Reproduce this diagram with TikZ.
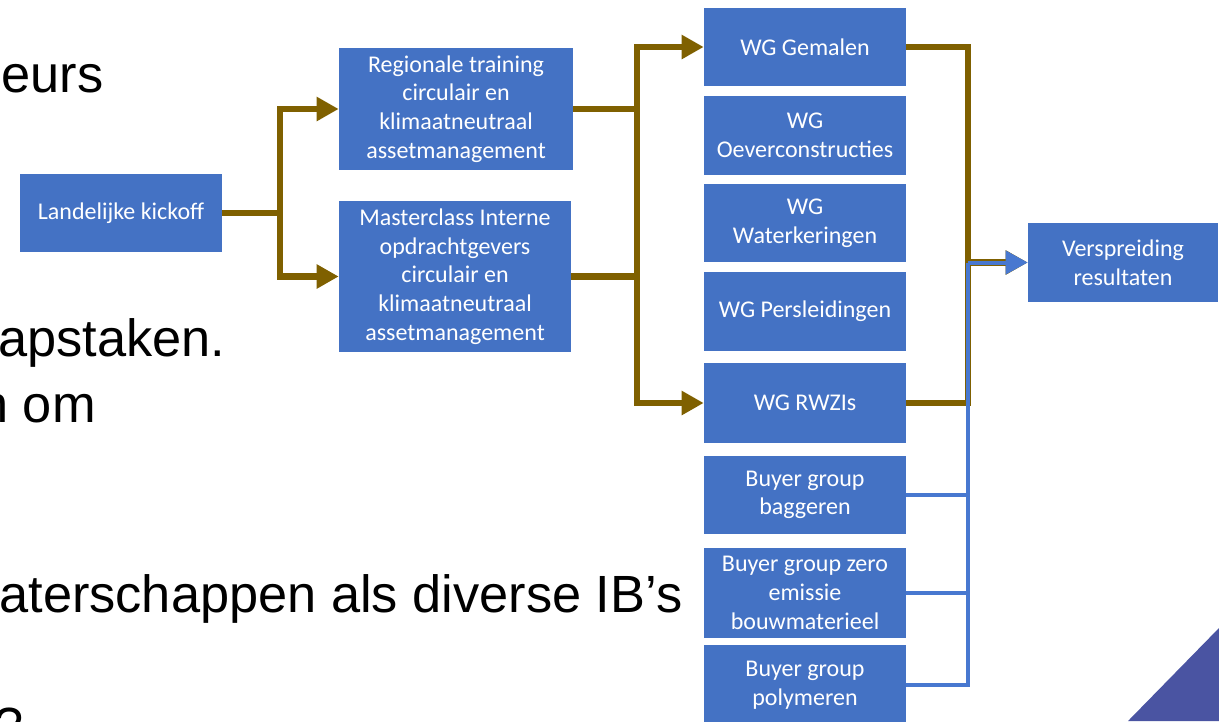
\documentclass[tikz,border=0pt]{standalone}
\usepackage{fontspec}
\setmainfont{Carlito}
\newfontfamily\slidefont{Liberation Sans}
\usetikzlibrary{arrows.meta}
\definecolor{boxblue}{RGB}{68,114,196}
\definecolor{linkblue}{RGB}{72,120,208}
\definecolor{linkbrown}{RGB}{127,96,0}
\definecolor{slidepurple}{RGB}{74,84,162}
\tikzset{
  wbox/.style={fill=boxblue, text=white, align=center, inner sep=0pt,
    font=\fontsize{13.66}{16.3}\selectfont},
  brn/.style={draw=linkbrown, line width=0.13cm},
  blu/.style={draw=linkblue, line width=0.08cm},
  tip/.style={-{Triangle[length=0.44cm,width=0.46cm]}},
  slidetxt/.style={inner sep=0pt, font=\slidefont\fontsize{29.8}{35}\selectfont}
}
\begin{document}
\begin{tikzpicture}[x=0.02cm, y=-0.02cm]
  \useasboundingbox (0,0) rectangle (1219,721);
  \clip (0,0) rectangle (1219,721);
  % slide text behind the scheme
  \node[slidetxt, anchor=base west] (s1) at (1,92) {eurs};
  \node[slidetxt, anchor=base west] (s2) at (-2,356) {apstaken.};
  \node[slidetxt, anchor=base west] (s3) at (-21,422) {n om};
  \node[slidetxt, anchor=base west] (s4) at (-1,612) {aterschappen als diverse IB’s};
  \node[slidetxt, anchor=base west] (s5) at (-6,744) {?};
  \fill[slidepurple] (1128,721) -- (1219,628) -- (1219,721) -- cycle;

  \node[wbox, minimum width=4.04cm, minimum height=1.56cm] (kick) at (121,213) {Landelijke kickoff};
  \node[wbox, minimum width=4.68cm, minimum height=2.44cm] (reg) at (456,109)
    {Regionale training\\circulair en\\klimaatneutraal\\assetmanagement};
  \node[wbox, minimum width=4.64cm, minimum height=3.02cm] (mast) at (455,276.5)
    {Masterclass Interne\\opdrachtgevers\\circulair en\\klimaatneutraal\\assetmanagement};

  \node[wbox, minimum width=4.04cm, minimum height=1.56cm] (gem) at (805,47) {WG Gemalen};
  \node[wbox, minimum width=4.04cm, minimum height=1.58cm] (oever) at (805,135.5) {WG\\Oeverconstructies};
  \node[wbox, minimum width=4.04cm, minimum height=1.56cm] (water) at (805,223) {WG\\Waterkeringen};
  \node[wbox, minimum width=4.04cm, minimum height=1.58cm] (pers) at (805,311.5) {WG Persleidingen};
  \node[wbox, minimum width=4.04cm, minimum height=1.6cm] (rwzi) at (805,403) {WG RWZIs};
  \node[wbox, minimum width=4.04cm, minimum height=1.56cm] (bagg) at (805,495) {Buyer group\\baggeren};
  \node[wbox, minimum width=4.04cm, minimum height=1.8cm] (zero) at (805,593) {Buyer group zero\\emissie\\bouwmaterieel};
  \node[wbox, minimum width=4.04cm, minimum height=1.6cm] (poly) at (805,685) {Buyer group\\polymeren};

  \node[wbox, minimum width=3.8cm, minimum height=1.58cm] (versp) at (1123,262.5) {Verspreiding\\resultaten};

  % brown links
  \coordinate (j1) at (280,213);
  \coordinate (j2) at (637,276.5);
  \coordinate (j3) at (968,262.5);
  \draw[brn] (kick.east) -- (j1);
  \draw[brn, tip] (j1) |- (reg.west);
  \draw[brn, tip] (j1) |- (mast.west);
  \draw[brn] (reg.east) -| (j2);
  \draw[brn] (mast.east) -- (j2);
  \draw[brn, tip] (j2) |- (gem.west);
  \draw[brn, tip] (j2) |- (rwzi.west);
  \draw[brn] (gem.east) -| (j3);
  \draw[brn] (rwzi.east) -| (j3);
  \draw[brn, tip] (j3) -- (versp.west);
  % blue links
  \draw[blu] (bagg.east) -| (j3);
  \draw[blu] (zero.east) -- (zero.east -| j3);
  \draw[blu] (poly.east) -| (j3);
  \draw[blu, tip] (j3) -- (versp.west);
\end{tikzpicture}
\end{document}
